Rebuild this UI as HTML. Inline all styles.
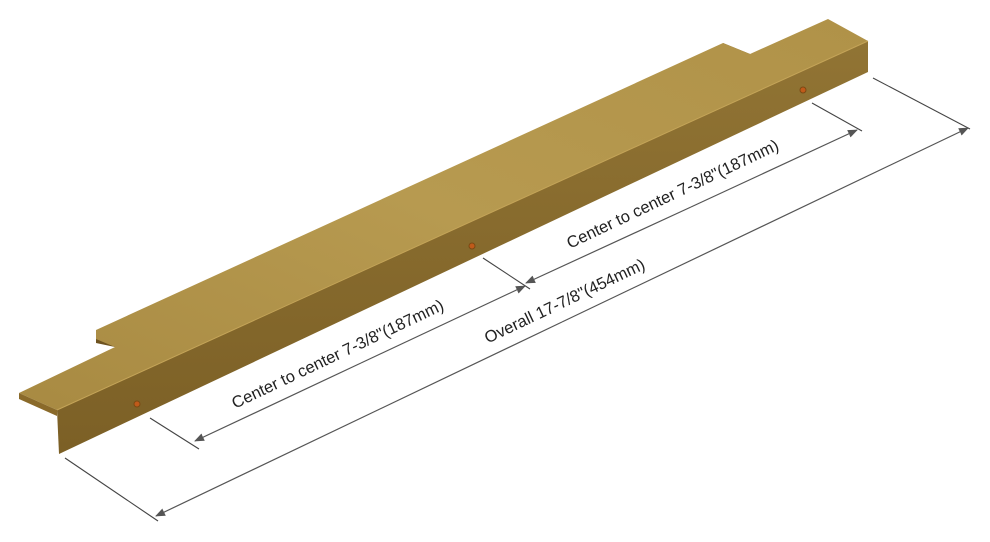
<!DOCTYPE html>
<html><head><meta charset="utf-8"><style>
html,body{margin:0;padding:0;background:#fff;}
svg{display:block;}
text{font-family:"Liberation Sans",Arial,sans-serif;font-size:16.5px;fill:#222;}
</style></head><body>
<svg width="990" height="542" viewBox="0 0 990 542" xmlns="http://www.w3.org/2000/svg">
<defs>
<linearGradient id="top" x1="0" y1="1" x2="1" y2="0">
<stop offset="0" stop-color="#a88a42"/><stop offset="0.5" stop-color="#b79a50"/><stop offset="1" stop-color="#b09248"/>
</linearGradient>
<linearGradient id="front" x1="0" y1="0" x2="0" y2="1">
<stop offset="0" stop-color="#917434"/><stop offset="1" stop-color="#7c6026"/>
</linearGradient>
<marker id="ar" markerWidth="10" markerHeight="8" refX="9" refY="4" orient="auto" markerUnits="userSpaceOnUse">
<path d="M0,0 L10,4 L0,8 Z" fill="#555"/>
</marker>
</defs>
<polygon points="96,330 96,343 115,347 115,340" fill="#6e5320"/>
<polygon points="723,43 750,54 750,60 723,49" fill="#6e5320"/>
<polygon points="19,393 115,347 96,339 96,330 723,43 750,54 828,19 868,41 57,410" fill="url(#top)"/>
<polygon points="19,393 57,410 57,416 19,399" fill="#8a6a2a"/>
<polygon points="57,410 868,41 868,72 59,454" fill="url(#front)"/>
<line x1="57" y1="410" x2="868" y2="41" stroke="#c4a458" stroke-width="1"/>
<circle cx="137" cy="404" r="3" fill="#c05a1a" stroke="#7a4a14" stroke-width="1"/>
<circle cx="472" cy="246" r="3" fill="#c05a1a" stroke="#7a4a14" stroke-width="1"/>
<circle cx="803" cy="90" r="3" fill="#c05a1a" stroke="#7a4a14" stroke-width="1"/>
<g stroke="#444" stroke-width="1.1">
<line x1="150" y1="418" x2="199" y2="449"/>
<line x1="483" y1="258" x2="530" y2="289"/>
<line x1="812" y1="103" x2="862" y2="131"/>
<line x1="65" y1="458" x2="158" y2="521"/>
<line x1="873" y1="78" x2="970" y2="129"/>
</g>
<g stroke="#555" stroke-width="1.2" fill="none">
<line x1="361" y1="363" x2="195" y2="441" marker-end="url(#ar)"/>
<line x1="361" y1="363" x2="525" y2="286" marker-end="url(#ar)"/>
<line x1="691" y1="207" x2="526" y2="283" marker-end="url(#ar)"/>
<line x1="691" y1="207" x2="857" y2="130" marker-end="url(#ar)"/>
<line x1="562" y1="322" x2="156" y2="516" marker-end="url(#ar)"/>
<line x1="562" y1="322" x2="968" y2="128" marker-end="url(#ar)"/>
</g>
<text transform="translate(340,359) rotate(-25.4)" text-anchor="middle">Center to center 7-3/8"(187mm)</text>
<text transform="translate(675,199) rotate(-25.4)" text-anchor="middle">Center to center 7-3/8"(187mm)</text>
<text transform="translate(567,306) rotate(-25.4)" text-anchor="middle">Overall 17-7/8"(454mm)</text>
</svg>
</body></html>
